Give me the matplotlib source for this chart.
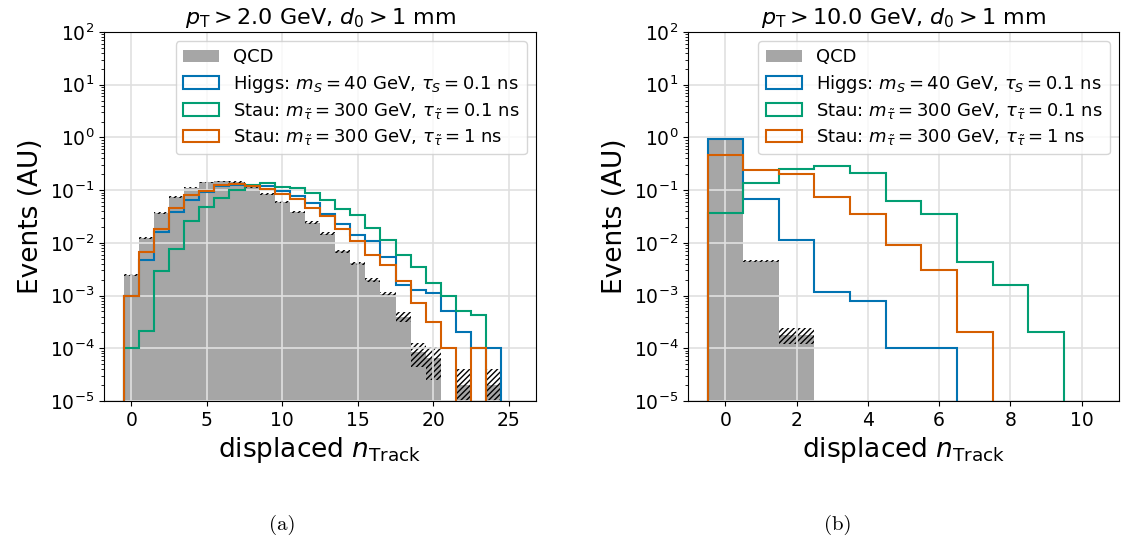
import numpy as np
import matplotlib.pyplot as plt
from matplotlib.patches import Patch

plt.rcParams["hatch.color"] = "black"
plt.rcParams["hatch.linewidth"] = 1.0

# ---- panel (a): pT > 2 GeV, bins de n_track 0..25 ----
ntrack_a = np.arange(0, 26)
qcd_a = [2.5e-3, 1.24e-2, 3.7e-2, 7.5e-2, 0.112, 0.14, 0.146, 0.144, 0.116, 0.084,
         0.059, 0.039, 0.0243, 0.015, 6.95e-3, 4.1e-3, 2.0e-3, 1.08e-3, 4.0e-4, 8.5e-5,
         6.5e-5, 0, 2e-5, 0, 2e-5, 0]
qcd_a_err = [1e-4, 5e-4, 1.3e-3, 2.5e-3, 3.5e-3, 4e-3, 4.5e-3, 4.5e-3, 4e-3, 3e-3,
             2.3e-3, 1.7e-3, 1.2e-3, 9e-4, 4.5e-4, 3.2e-4, 1.8e-4, 1.1e-4, 8.5e-5, 4e-5,
             4e-5, 0, 2e-5, 0, 2e-5, 0]
higgs_a = [1e-3, 4.8e-3, 0.016, 0.039, 0.066, 0.093, 0.12, 0.125, 0.12, 0.12,
           0.096, 0.077, 0.056, 0.036, 0.023, 0.0144, 0.011, 5.4e-3, 1.6e-3, 1.3e-3,
           1.14e-3, 5e-4, 2e-4, 1e-4, 1e-4, 0]
stau01_a = [1e-4, 2.1e-4, 2.9e-3, 7.8e-3, 0.026, 0.048, 0.072, 0.1, 0.125, 0.134,
            0.116, 0.112, 0.088, 0.065, 0.044, 0.0335, 0.019, 0.0112, 5.8e-3, 3.5e-3,
            1.7e-3, 1e-3, 5e-4, 4.2e-4, 0, 0]
stau1_a = [1e-3, 6.7e-3, 0.0187, 0.045, 0.081, 0.098, 0.125, 0.128, 0.122, 0.107,
           0.083, 0.068, 0.046, 0.032, 0.018, 0.011, 6.0e-3, 3.8e-3, 1.9e-3, 7.2e-4,
           3.1e-4, 1e-4, 0, 1e-4, 0, 0]

# ---- panel (b): pT > 10 GeV, bins de n_track 0..10 ----
ntrack_b = np.arange(0, 11)
qcd_b = [0.93, 4.5e-3, 1.8e-4, 0, 0, 0, 0, 0, 0, 0, 0]
qcd_b_err = [0.01, 1.5e-4, 6e-5, 0, 0, 0, 0, 0, 0, 0, 0]
higgs_b = [0.93, 0.067, 0.0112, 1.19e-3, 8.0e-4, 1e-4, 1e-4, 0, 0, 0, 0]
stau01_b = [0.037, 0.134, 0.254, 0.286, 0.207, 0.061, 0.036, 4.4e-3, 1.6e-3, 2.0e-4, 0]
stau1_b = [0.455, 0.24, 0.20, 0.073, 0.036, 9.1e-3, 3.0e-3, 2.0e-4, 0, 0, 0]

etiquetas = ["QCD",
             r"Higgs: $m_S = 40$ GeV, $\tau_S = 0.1$ ns",
             r"Stau: $m_{\tilde{\tau}} = 300$ GeV, $\tau_{\tilde{\tau}} = 0.1$ ns",
             r"Stau: $m_{\tilde{\tau}} = 300$ GeV, $\tau_{\tilde{\tau}} = 1$ ns"]
colores = ["#0173b2", "#029e73", "#d55e00"]
gris = "#a6a6a6"


def panel(ax, n, qcd, qcd_err, senales, titulo, xlim, xticks):
    ax.set_yscale("log")
    bordes = np.append(n - 0.5, n[-1] + 0.5)
    qcd = np.array(qcd, float)
    err = np.array(qcd_err, float)
    # fondo QCD relleno + banda de incertidumbre rayada
    ax.bar(n, qcd, width=1, color=gris, lw=0, zorder=1)
    abajo = np.maximum(qcd - err, 1e-9)
    ax.bar(n, qcd + err - abajo, bottom=abajo, width=1, fill=False,
           hatch="//////", edgecolor="black", lw=0, zorder=1.2)
    # senales como histogramas de linea
    for vals, c in zip(senales, colores):
        v = np.array(vals, float)
        v[v <= 0] = 1e-9
        ax.stairs(v, bordes, baseline=1e-9, color=c, lw=1.5, zorder=2)

    ax.set_xlim(*xlim)
    ax.set_ylim(1e-5, 1e2)
    ax.set_xticks(xticks)
    ax.set_axisbelow("line")
    ax.grid(True, which="major", color="#e0e0e0", lw=1.2)
    ax.tick_params(labelsize=13.5)
    for s in ax.spines.values():
        s.set_color("black")
    ax.set_title(titulo, fontsize=16)
    ax.set_ylabel("Events (AU)", fontsize=19)
    ax.set_xlabel(r"displaced $n_\mathrm{Track}$", fontsize=19)

    manejadores = [Patch(facecolor=gris, edgecolor="none")]
    manejadores += [Patch(facecolor="none", edgecolor=c, lw=1.5) for c in colores]
    ax.legend(manejadores, etiquetas, loc="upper right", fontsize=13, labelspacing=0.35)


fig = plt.figure(figsize=(11.21, 5.47), dpi=100)
ax1 = fig.add_axes([0.0928, 0.2669, 0.3854, 0.6746])
ax2 = fig.add_axes([0.6137, 0.2669, 0.3845, 0.6746])

panel(ax1, ntrack_a, qcd_a, qcd_a_err, [higgs_a, stau01_a, stau1_a],
      r"$p_\mathrm{T} > 2.0$ GeV, $d_0 > 1$ mm", (-1.8, 26.8), [0, 5, 10, 15, 20, 25])
panel(ax2, ntrack_b, qcd_b, qcd_b_err, [higgs_b, stau01_b, stau1_b],
      r"$p_\mathrm{T} > 10.0$ GeV, $d_0 > 1$ mm", (-1.05, 11.05), [0, 2, 4, 6, 8, 10])

# leyendas de las subfiguras
fig.text(282 / 1121, 1 - 525 / 547, "(a)", ha="center", va="center", fontsize=15, family="cmr10")
fig.text(838 / 1121, 1 - 525 / 547, "(b)", ha="center", va="center", fontsize=15, family="cmr10")

fig.savefig("out.png", dpi=100)
